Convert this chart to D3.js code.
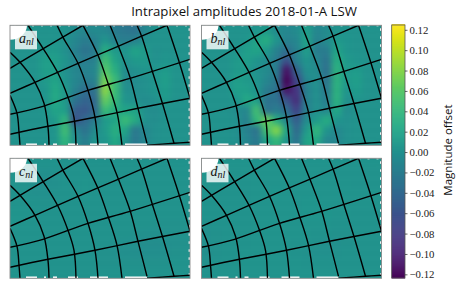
<!DOCTYPE html>
<html><head><meta charset="utf-8">
<script src="https://cdn.jsdelivr.net/npm/d3@7"></script>
<style>html,body{margin:0;padding:0;background:#fff}svg{display:block}</style>
</head><body><svg id="c" width="463" height="290"></svg>
<script>
// Magnitude offset maps, in units of 0.001 mag
const mapA = [
[3,3,3,3,3,2,-5,-10,-5,-10,-20,-25,-30,-10,2,3,3,3],
[3,3,3,4,4,2,-10,-20,-15,5,-15,-20,-15,0,3,3,3,3],
[3,3,3,8,10,0,-15,-30,-20,30,10,5,20,10,0,3,3,3],
[3,3,4,15,15,5,-10,-20,-15,50,20,0,10,10,0,5,3,3],
[3,3,4,15,15,0,-10,-15,-10,58,32,-5,0,5,5,12,4,3],
[3,3,3,10,20,5,-10,-20,-15,72,45,-5,-5,0,5,15,4,3],
[3,3,3,5,25,10,-15,-35,-30,82,45,0,-3,0,5,12,4,3],
[3,3,3,4,25,10,-30,-45,-40,65,42,5,0,-5,0,10,3,3],
[3,3,3,5,20,15,-50,-55,-40,45,30,20,20,0,-5,3,3,3],
[3,3,3,3,10,38,-62,-40,-20,10,20,45,28,0,-3,2,3,3],
[3,3,3,3,5,48,-10,-30,-5,10,32,20,-25,-10,0,3,3,3],
[3,3,3,3,5,38,0,-20,5,5,25,5,-25,-10,0,3,3,3]];
const mapB = [
[3,3,3,3,2,5,10,-5,-10,-5,15,-10,-5,2,3,3,3,3],
[3,3,3,3,5,20,30,5,-15,-10,20,-15,-5,10,5,3,3,3],
[3,3,3,5,15,20,10,-15,-35,-15,15,-20,-20,20,5,3,3,3],
[3,3,3,10,15,5,-5,-20,-62,-15,5,-10,-30,30,10,5,3,3],
[3,3,3,10,10,0,-5,-20,-112,-45,0,-5,-35,35,10,12,4,3],
[3,3,3,15,10,5,-10,-25,-125,-70,-10,0,-30,35,10,15,4,3],
[3,3,3,15,15,5,-20,-30,-110,-85,-15,0,-25,35,5,12,4,3],
[3,3,3,5,25,15,-30,-30,-60,-92,-15,0,-20,35,0,5,3,3],
[3,3,3,-5,-10,50,-30,-20,-35,-75,-15,0,-10,25,-5,2,3,3],
[3,3,3,0,-15,40,70,30,-10,-50,-5,10,30,5,0,3,3,3],
[3,3,3,0,-15,-30,50,80,20,-40,10,40,5,-10,0,3,3,3],
[3,3,3,0,-10,-25,20,40,5,-30,20,25,-10,-10,0,3,3,3]];
const mapC = [
[4,5,3,2,3,3,3,3,3,3,3,3,3,3,3,3,3,3],
[5,3,0,-1,0,2,3,4,3,3,3,3,3,2,2,2,2,2],
[3,2,-1,-2,0,2,3,5,3,2,3,3,3,3,3,3,2,2],
[3,2,0,0,1,2,3,5,3,2,3,3,3,3,3,3,3,3],
[4,3,2,1,2,2,3,4,3,3,3,3,3,3,3,3,3,3],
[5,4,3,2,2,2,3,3,3,3,3,3,3,3,3,2,2,2],
[5,4,3,2,2,3,3,3,3,3,3,3,2,2,1,1,1,2],
[4,3,3,2,2,3,3,3,3,3,3,2,1,0,-1,0,1,2],
[4,3,3,2,2,3,3,3,3,2,1,0,-1,-3,-3,-2,0,1],
[3,3,3,3,3,3,3,3,2,1,0,-1,-2,-2,-2,-1,1,2],
[3,3,3,3,3,3,3,3,2,1,1,1,1,1,1,1,2,2],
[4,4,4,3,3,3,3,3,3,3,3,3,3,3,3,3,3,3]];
const mapD = [
[4,5,4,4,4,4,4,4,4,4,4,4,4,4,4,4,4,4],
[5,4,3,3,4,4,4,4,4,4,4,4,3,3,3,3,3,3],
[4,3,2,3,3,4,4,4,4,4,4,4,4,4,4,3,3,3],
[3,3,3,3,3,4,4,5,4,4,4,4,4,4,4,4,4,4],
[3,3,3,3,3,4,4,4,4,4,5,5,4,4,4,4,4,4],
[2,3,3,3,3,4,4,4,4,4,5,5,5,4,4,3,3,3],
[1,2,3,3,3,4,4,4,4,4,4,4,4,3,2,2,2,3],
[0,1,2,3,3,4,4,4,4,4,4,3,2,1,1,2,2,3],
[0,1,2,3,3,4,4,4,4,3,2,1,0,0,1,2,3,3],
[-1,1,2,3,4,4,4,4,4,3,1,0,0,1,2,3,3,3],
[1,2,3,4,4,4,4,4,4,4,3,2,2,3,3,3,3,3],
[3,3,4,4,4,4,4,4,4,4,4,4,4,4,4,4,4,4]];

const panelNames = [["a","nl"],["b","nl"],["c","nl"],["d","nl"]];
const panelMaps = [mapA, mapB, mapC, mapD];
const titleText = "Intrapixel amplitudes 2018-01-A LSW";
const cbarLabel = "Magnitude offset";
const cbarTicks = [0.12,0.10,0.08,0.06,0.04,0.02,0,-0.02,-0.04,-0.06,-0.08,-0.10,-0.12];
const cbarDomain = [-0.1236, 0.1247];

// Detector grid lines in detector coordinates (x 0..180, y 0..120)
const arcLines = [
[[0,70],[7,88],[9,107],[10,120]],
[[0,27],[10,37],[25,57],[34,78],[38,102],[39,120]],
[[18,0],[33,23],[48,48],[58,72],[64,92],[66,120]],
[[47,0],[53,12],[68,38],[78,65],[85,92],[88,120]],
[[73,0],[88,30],[98,58],[107,87],[112,120]],
[[100,0],[110,25],[120,52],[128,83],[137,118]],
[[127,0],[132,12],[142,45],[153,80],[164,118]],
[[157,0],[168,33],[180,73]]];
const crossLines = [
[[0,43],[32,24],[73,0]],
[[0,68],[25,57],[68,38],[108,21],[157,0]],
[[0,89],[33,81],[78,65],[120,53],[180,34]],
[[0,109],[38,101],[85,92],[128,83],[180,73]],
[[137,120],[164,118],[180,117]]];
const bottomGaps = [[16,27],[34,36],[43,47],[58,68],[80,98],[115,137]];
const rightGaps = d3.range(3, 120, 8);
const topGaps = d3.range(4, 178, 9);

const svg = d3.select("#c");
const panelW = 180, panelH = 120;
const panelX = [10, 201.5, 10, 201.5];
const panelY = [25.3, 25.3, 158.3, 158.3];
const col = d3.scaleSequential(d3.interpolateViridis).domain(cbarDomain);
const sx = d3.scaleLinear().domain([0,180]).range([0,panelW]);
const sy = d3.scaleLinear().domain([0,120]).range([0,panelH]);
const ln = d3.line().x(d=>sx(d[0])).y(d=>sy(d[1])).curve(d3.curveCatmullRom.alpha(0.5));

const defs = svg.append("defs");
const f = defs.append("filter").attr("id","sm").attr("filterUnits","userSpaceOnUse")
  .attr("x",-40).attr("y",-40).attr("width",260).attr("height",200)
  .attr("color-interpolation-filters","sRGB");
f.append("feGaussianBlur").attr("stdDeviation",3.4);
defs.append("clipPath").attr("id","pc").append("rect").attr("width",panelW).attr("height",panelH);

panelMaps.forEach((m,i)=>{
  const g = svg.append("g").attr("transform",`translate(${panelX[i]},${panelY[i]})`);
  const clip = g.append("g").attr("clip-path","url(#pc)");
  const nr = m.length, nc = m[0].length;
  const cx = d3.scaleLinear().domain([0,nc]).range([0,panelW]);
  const cy = d3.scaleLinear().domain([0,nr]).range([0,panelH]);
  const cells = m.flatMap((row,r)=>row.map((v,c)=>({r,c,v:v/1000})));
  clip.append("g").attr("filter","url(#sm)").selectAll("rect").data(cells).join("rect")
    .attr("x",d=>d.c===0?cx(0)-30:cx(d.c))
    .attr("y",d=>d.r===0?cy(0)-30:cy(d.r))
    .attr("width",d=>cx(d.c+1)-cx(d.c)+(d.c===0||d.c===nc-1?30:0)+0.5)
    .attr("height",d=>cy(d.r+1)-cy(d.r)+(d.r===0||d.r===nr-1?30:0)+0.5)
    .attr("fill",d=>col(d.v));
  // missing-data regions
  clip.append("ellipse").attr("cx",0).attr("cy",0).attr("rx",17).attr("ry",14.5).attr("fill","#fff");
  clip.selectAll("rect.bg").data(bottomGaps).join("rect").attr("class","bg")
    .attr("x",d=>sx(d[0])).attr("width",d=>sx(d[1])-sx(d[0])).attr("y",panelH-1.8).attr("height",1.8).attr("fill","#fff");
  clip.selectAll("rect.tg").data(topGaps).join("rect").attr("class","tg")
    .attr("x",d=>sx(d)).attr("width",2).attr("y",0).attr("height",1).attr("fill","#fff");
  clip.selectAll("rect.rg").data(rightGaps).join("rect").attr("class","rg")
    .attr("y",d=>sy(d)).attr("height",2.5).attr("x",panelW-1.4).attr("width",1.4).attr("fill","#fff");
  clip.selectAll("path.arc").data(arcLines.concat(crossLines)).join("path").attr("class","arc")
    .attr("d",ln).attr("fill","none").attr("stroke","#000").attr("stroke-width",1.4);
  // label box
  g.append("rect").attr("x",5).attr("y",5.5).attr("width",22).attr("height",18.5)
    .attr("fill","#fff").attr("fill-opacity",0.8);
  const t = g.append("text").attr("x",9).attr("y",18).attr("font-family","'Liberation Serif','DejaVu Serif',serif")
    .attr("font-style","italic").attr("font-size",14).attr("fill","#111");
  t.append("tspan").text(panelNames[i][0]);
  t.append("tspan").attr("dy",2).attr("font-size",10).text(panelNames[i][1]);
  g.append("rect").attr("width",panelW).attr("height",panelH).attr("fill","none")
    .attr("stroke","#8a8a8a").attr("stroke-width",0.9);
});

// Title
svg.append("text").attr("x",244).attr("y",15.5).attr("text-anchor","middle")
  .attr("font-family","'Open Sans',sans-serif").attr("font-size",13.2).attr("fill","#111").text(titleText);

// Colour bar
const cbX = 391.7, cbW = 13.3, cbTop = 25, cbBot = 278;
const cy = d3.scaleLinear().domain(cbarDomain).range([cbBot,cbTop]);
const steps = d3.range(0,256).map(i=>cbarDomain[0]+(cbarDomain[1]-cbarDomain[0])*i/255);
const stepH = (cbBot-cbTop)/256;
svg.append("g").selectAll("rect").data(steps).join("rect")
  .attr("x",cbX).attr("width",cbW).attr("y",d=>cy(d)-stepH).attr("height",stepH+0.5).attr("fill",d=>col(d));
svg.append("rect").attr("x",cbX).attr("y",cbTop).attr("width",cbW).attr("height",cbBot-cbTop)
  .attr("fill","none").attr("stroke","#555").attr("stroke-width",0.8);
const ax = d3.axisRight(cy).tickValues(cbarTicks).tickSize(2.5).tickPadding(2)
  .tickFormat(d=>(d<0?"\u2212":"")+Math.abs(d).toFixed(2));
const axg = svg.append("g").attr("transform",`translate(${cbX+cbW},0)`).call(ax);
axg.select(".domain").remove();
axg.selectAll("line").attr("stroke","#222").attr("stroke-width",0.7);
axg.selectAll("text").attr("font-family","'Liberation Serif','DejaVu Serif',serif").attr("font-size",10.8).attr("fill","#222");

svg.append("text").attr("transform","translate(452,150) rotate(-90)").attr("text-anchor","middle")
  .attr("font-family","'Open Sans',sans-serif").attr("font-size",11.5).attr("fill","#111").text(cbarLabel);
</script></body></html>
